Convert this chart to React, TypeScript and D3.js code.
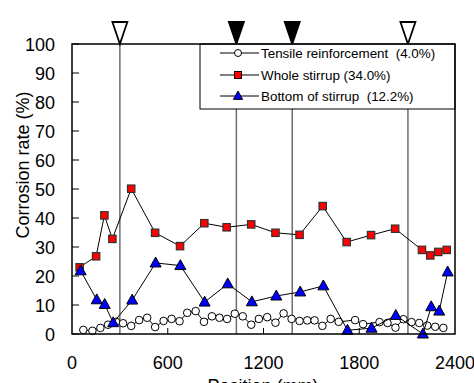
import React from "react";
import * as d3 from "d3";

const xTicks = [0, 600, 1200, 1800, 2400];
const yTicks = [0, 10, 20, 30, 40, 50, 60, 70, 80, 90, 100];

const tensilePos = [71, 128, 178, 226, 276, 320, 371, 421, 471, 521, 574, 624, 674, 722, 775, 827, 877, 924, 972, 1020, 1070, 1123, 1171, 1223, 1275, 1326, 1376, 1426, 1474, 1520, 1569, 1621, 1671, 1774, 1824, 1927, 1977, 2027, 2077, 2128, 2176, 2226, 2276, 2327];
const tensileVal = [1.4, 1.1, 2.1, 3.2, 4.2, 3.7, 2.8, 4.8, 5.6, 2.4, 4.5, 5.2, 4.4, 7.3, 7.9, 4.2, 6.1, 5.6, 5.2, 7.0, 6.1, 3.2, 5.2, 5.8, 3.9, 7.1, 5.2, 4.5, 4.7, 4.7, 2.8, 5.2, 4.2, 4.8, 3.4, 4.1, 3.8, 2.2, 5.1, 4.1, 3.8, 2.9, 2.5, 2.1];

const wholePos = [48, 151, 203, 253, 371, 521, 677, 829, 969, 1123, 1275, 1426, 1571, 1721, 1874, 2025, 2193, 2245, 2295, 2348];
const wholeVal = [23.0, 26.8, 40.9, 32.8, 50.1, 34.9, 30.3, 38.2, 36.8, 37.8, 34.9, 34.2, 44.1, 31.7, 34.1, 36.3, 29.0, 27.1, 28.3, 29.0];

const bottomPos = [54, 155, 205, 258, 377, 524, 679, 831, 976, 1127, 1280, 1430, 1575, 1726, 1877, 2029, 2199, 2251, 2301, 2354];
const bottomVal = [21.8, 11.8, 10.2, 3.9, 11.7, 24.5, 23.6, 11.0, 17.3, 11.1, 13.1, 14.5, 16.6, 1.3, 2.0, 6.4, 0.0, 9.4, 7.9, 21.4];

const markerPos = [300, 1030, 1380, 2105];
const markerFilled = [false, true, true, false];

const legendLabels = ["Tensile reinforcement  (4.0%)", "Whole stirrup (34.0%)", "Bottom of stirrup  (12.2%)"];

const W = 474, H = 383;
const L = 72, R = 455, T = 44, B = 334;

export default function App() {
  const x = d3.scaleLinear().domain([0, 2400]).range([L, R]);
  const y = d3.scaleLinear().domain([0, 100]).range([B, T]);
  const line = d3.line<[number, number]>().x(d => x(d[0])).y(d => y(d[1]));
  const tens = tensilePos.map((p, i) => [p, tensileVal[i]] as [number, number]);
  const whole = wholePos.map((p, i) => [p, wholeVal[i]] as [number, number]);
  const bot = bottomPos.map((p, i) => [p, bottomVal[i]] as [number, number]);
  const font = "Liberation Sans, Arial, sans-serif";
  const tri = (cx: number, cy: number, s: number) =>
    `M${cx},${cy - s * 0.62}L${cx + s * 0.58},${cy + s * 0.42}L${cx - s * 0.58},${cy + s * 0.42}Z`;
  const legendY = [53, 75, 96];
  return (
    <svg width={W} height={H} style={{ position: "absolute", left: 0, top: 0 }} fontFamily={font}>
      <rect x={0} y={0} width={W} height={H} fill="white" />
      {markerPos.map((p, i) => (
        <line key={"v" + i} x1={x(p)} x2={x(p)} y1={T} y2={B} stroke="#6e6e6e" strokeWidth={1.5} />
      ))}
      {markerPos.map((p, i) => (
        <path key={"m" + i} d={`M${x(p) - 7.5},22L${x(p) + 7.5},22L${x(p)},44Z`}
          fill={markerFilled[i] ? "black" : "white"} stroke="black" strokeWidth={1.8} />
      ))}
      {/* legend */}
      <rect x={200} y={T} width={R - 200} height={109 - T} fill="white" stroke="black" strokeWidth={1} />
      {legendLabels.map((lab, i) => (
        <g key={"l" + i}>
          <line x1={220} x2={259} y1={legendY[i]} y2={legendY[i]} stroke="black" strokeWidth={1} />
          {i === 0 && <circle cx={238} cy={legendY[i]} r={3.5} fill="white" stroke="black" strokeWidth={1} />}
          {i === 1 && <rect x={234.5} y={legendY[i] - 3.5} width={7} height={7} fill="#ff0000" stroke="black" strokeWidth={1} />}
          {i === 2 && <path d={tri(238, legendY[i], 8)} fill="#0000ff" stroke="black" strokeWidth={1} />}
          <text x={261} y={legendY[i] + 5} fontSize={13.4} fill="black" style={{ whiteSpace: "pre" }}>{lab}</text>
        </g>
      ))}
      {/* series */}
      <path d={line(tens) || ""} fill="none" stroke="black" strokeWidth={1} />
      {tens.map((d, i) => (
        <circle key={"c" + i} cx={x(d[0])} cy={y(d[1])} r={3.8} fill="white" stroke="black" strokeWidth={1} />
      ))}
      <path d={line(whole) || ""} fill="none" stroke="black" strokeWidth={1} />
      {whole.map((d, i) => (
        <rect key={"s" + i} x={x(d[0]) - 3.7} y={y(d[1]) - 3.7} width={7.4} height={7.4} fill="#ff0000" stroke="#333" strokeWidth={1.2} />
      ))}
      <path d={line(bot) || ""} fill="none" stroke="black" strokeWidth={1} />
      {bot.map((d, i) => (
        <path key={"t" + i} d={tri(x(d[0]), y(d[1]), 9.5)} fill="#0000ff" stroke="black" strokeWidth={1} />
      ))}
      {/* frame */}
      <rect x={L} y={T} width={R - L} height={B - T} fill="none" stroke="black" strokeWidth={1.5} />
      {yTicks.map(t => (
        <g key={"y" + t}>
          <line x1={L} x2={L + 7} y1={y(t)} y2={y(t)} stroke="black" strokeWidth={1} />
          <text x={55} y={y(t) + 6.5} textAnchor="end" fontSize={18} fill="black">{t}</text>
        </g>
      ))}
      {xTicks.map(t => (
        <g key={"x" + t}>
          {t > 0 && t < 2400 && <line x1={x(t)} x2={x(t)} y1={B} y2={B - 6} stroke="black" strokeWidth={1} />}
          <text x={x(t)} y={369} textAnchor="middle" fontSize={18} fill="black">{t}</text>
        </g>
      ))}
      <text x={263} y={392} textAnchor="middle" fontSize={18} fill="black">Position (mm)</text>
      <text transform={`translate(29,${(T + B) / 2 - 24}) rotate(-90)`} textAnchor="middle" fontSize={18} fill="black">Corrosion rate (%)</text>
    </svg>
  );
}
